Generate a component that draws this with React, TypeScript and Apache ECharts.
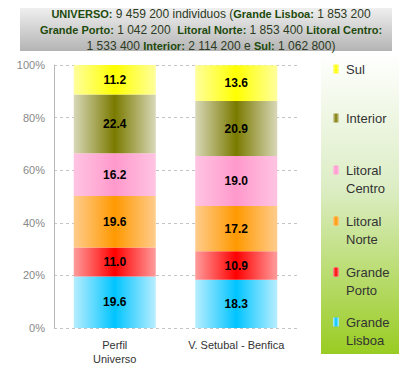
import React, { useEffect, useRef } from "react";
import * as echarts from "echarts";

const categories = ["Perfil\nUniverso", "V. Setubal - Benfica"];
const seriesNames = ["Grande Lisboa", "Grande Porto", "Litoral Norte", "Litoral Centro", "Interior", "Sul"];
const legendLabels = ["Grande\nLisboa", "Grande\nPorto", "Litoral\nNorte", "Litoral\nCentro", "Interior", "Sul"];
const grandeLisboa = [19.6, 18.3];
const grandePorto = [11.0, 10.9];
const litoralNorte = [19.6, 17.2];
const litoralCentro = [16.2, 19.0];
const interior = [22.4, 20.9];
const sul = [11.2, 13.6];
const seriesValues = [grandeLisboa, grandePorto, litoralNorte, litoralCentro, interior, sul];
const yTicks = [0, 20, 40, 60, 80, 100];

const centerColors = ["#00c4ff", "#ff0000", "#ff9900", "#ff99cc", "#7a7a00", "#ffff00"];
const edgeColors = ["#b8eeff", "#ff9c9c", "#ffcc8c", "#ffc4e2", "#d8d8b8", "#ffff9c"];

function hGrad(i: number) {
  return new echarts.graphic.LinearGradient(0, 0, 1, 0, [
    { offset: 0, color: edgeColors[i] },
    { offset: 0.5, color: centerColors[i] },
    { offset: 1, color: edgeColors[i] },
  ]);
}

export default function App() {
  const ref = useRef<HTMLDivElement>(null);
  useEffect(() => {
    if (!ref.current) return;
    const chart = echarts.init(ref.current, null, { renderer: "svg" });
    const font = "'Liberation Sans', Arial, sans-serif";

    const legendTop = [322, 272, 221, 170, 118, 69];
    const legendGraphics: any[] = [];
    seriesNames.forEach((_, i) => {
      const y = legendTop[i];
      legendGraphics.push({
        type: "rect",
        shape: { x: 333, y: y - 4.5, width: 6, height: 9 },
        style: { fill: hGrad(i) },
        silent: true,
      });
      legendGraphics.push({
        type: "text",
        x: 346,
        y: y - 9,
        style: {
          text: legendLabels[i],
          font: `13px ${font}`,
          fill: "#333",
          lineHeight: 18,
          textVerticalAlign: "top",
        },
        silent: true,
      });
    });

    chart.setOption({
      animation: false,
      backgroundColor: "#fff",
      textStyle: { fontFamily: font },
      title: {
        text:
          "{b|UNIVERSO:} 9 459 200 individuos ({b|Grande Lisboa:} 1 853 200\n" +
          "{b|Grande Porto:} 1 042 200  {b|Litoral Norte:} 1 853 400 {b|Litoral Centro:}\n" +
          "1 533 400 {b|Interior:} 2 114 200 e {b|Sul:} 1 062 800)",
        left: 206,
        top: 1,
        textAlign: "center",
        textStyle: {
          fontSize: 12,
          fontWeight: "normal",
          color: "#2c3a22",
          lineHeight: 16,
          fontFamily: font,
          rich: {
            b: { fontSize: 11, fontWeight: "bold", color: "#1d4a0c", lineHeight: 16, fontFamily: font },
          },
        },
      },
      graphic: [
        {
          type: "rect",
          z: -10,
          shape: { x: 20, y: 0, width: 372, height: 51 },
          style: {
            fill: new echarts.graphic.LinearGradient(0, 0, 0, 1, [
              { offset: 0, color: "#fafafa" },
              { offset: 1, color: "#b4b4b4" },
            ]),
          },
          silent: true,
        },
        {
          type: "rect",
          z: -10,
          shape: { x: 321, y: 54, width: 78, height: 300 },
          style: {
            fill: new echarts.graphic.LinearGradient(0, 0, 0, 1, [
              { offset: 0, color: "#ffffff" },
              { offset: 0.45, color: "#dcedc4" },
              { offset: 1, color: "#99cc22" },
            ]),
          },
          silent: true,
        },
        ...legendGraphics,
      ],
      grid: { left: 54, right: 118, top: 65, bottom: 46 },
      xAxis: {
        type: "category",
        data: categories,
        axisLine: { show: false },
        axisTick: { show: false },
        axisLabel: { interval: 0, color: "#333", fontSize: 11, lineHeight: 14, margin: 10, fontFamily: font },
      },
      yAxis: {
        type: "value",
        min: yTicks[0],
        max: yTicks[yTicks.length - 1],
        interval: 20,
        axisLine: { show: true, lineStyle: { color: "#b8b8b8" } },
        axisTick: { show: false },
        axisLabel: { formatter: "{value}%", color: "#888", fontSize: 11, margin: 9, fontFamily: font },
        splitLine: { show: true, lineStyle: { color: "#c4c4c4", type: [3, 3] } },
      },
      series: seriesNames.map((name, i) => ({
        name,
        type: "bar",
        stack: "total",
        barWidth: 82,
        data: seriesValues[i],
        itemStyle: { color: hGrad(i) },
        label: {
          show: true,
          position: "inside",
          color: "#000",
          fontWeight: "bold",
          fontSize: 12,
          fontFamily: font,
          formatter: (p: any) => Number(p.value).toFixed(1),
        },
      })),
    });
    return () => chart.dispose();
  }, []);
  return <div ref={ref} style={{ width: 415, height: 374, margin: -8 }} />;
}
